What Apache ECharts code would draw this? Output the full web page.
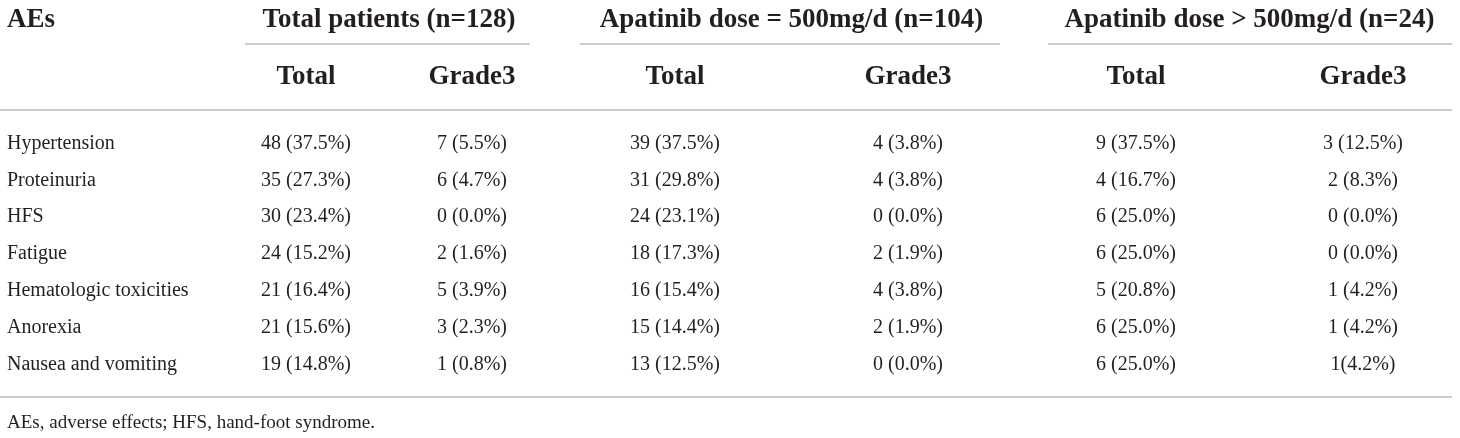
<!DOCTYPE html>
<html>
<head>
<meta charset="utf-8">
<script src="https://cdn.jsdelivr.net/npm/echarts@6/dist/echarts.min.js"></script>
<style>
html,body{margin:0;padding:0;background:#fff;}
#chart{width:1460px;height:438px;}
</style>
</head>
<body>
<div id="chart"></div>
<script>
// ---- data ----
const rowHeader = 'AEs';
const groupHeaders = ['Total patients (n=128)', 'Apatinib dose = 500mg/d (n=104)', 'Apatinib dose > 500mg/d (n=24)'];
const subHeaders = ['Total', 'Grade3', 'Total', 'Grade3', 'Total', 'Grade3'];
const aeNames = ['Hypertension', 'Proteinuria', 'HFS', 'Fatigue', 'Hematologic toxicities', 'Anorexia', 'Nausea and vomiting'];
const allTotal   = ['48 (37.5%)', '35 (27.3%)', '30 (23.4%)', '24 (15.2%)', '21 (16.4%)', '21 (15.6%)', '19 (14.8%)'];
const allGrade3  = ['7 (5.5%)', '6 (4.7%)', '0 (0.0%)', '2 (1.6%)', '5 (3.9%)', '3 (2.3%)', '1 (0.8%)'];
const d500Total  = ['39 (37.5%)', '31 (29.8%)', '24 (23.1%)', '18 (17.3%)', '16 (15.4%)', '15 (14.4%)', '13 (12.5%)'];
const d500Grade3 = ['4 (3.8%)', '4 (3.8%)', '0 (0.0%)', '2 (1.9%)', '4 (3.8%)', '2 (1.9%)', '0 (0.0%)'];
const dHighTotal = ['9 (37.5%)', '4 (16.7%)', '6 (25.0%)', '6 (25.0%)', '5 (20.8%)', '6 (25.0%)', '6 (25.0%)'];
const dHighGrade3 = ['3 (12.5%)', '2 (8.3%)', '0 (0.0%)', '0 (0.0%)', '1 (4.2%)', '1 (4.2%)', '1(4.2%)'];
const footnote = 'AEs, adverse effects; HFS, hand-foot syndrome.';

// ---- layout (styling only) ----
const W = 1460, H = 438;
const colX = [306, 472, 675, 908, 1136, 1363];
const leftX = 7;
const groupY = 20, subY = 77, footY = 423;
const groupRuleY = 44, headRuleY = 110, bottomRuleY = 397;
const groupRuleSpans = [[245, 530], [580, 1000], [1048, 1452]];
const fullRuleSpan = [0, 1452];
const bodyTop = 125, bodyHeight = 258;

const FONT = '"Liberation Serif", "DejaVu Serif", serif';
const INK = '#231f20';
const RULE = '#bdbdbd';
const HEAD_SIZE = 27, BODY_SIZE = 20, FOOT_SIZE = 19;

const columns = [allTotal, allGrade3, d500Total, d500Grade3, dHighTotal, dHighGrade3];

function textSeries(name, data, xi, yi, labelOpts) {
  return {
    name: name,
    type: 'scatter',
    xAxisIndex: xi, yAxisIndex: yi,
    symbolSize: 0,
    silent: true,
    itemStyle: { opacity: 1 },
    emphasis: { disabled: true },
    data: data,
    label: Object.assign({
      show: true,
      position: 'inside',
      formatter: p => p.data[2],
      fontFamily: FONT,
      color: INK,
      opacity: 1
    }, labelOpts)
  };
}

const series = [];

// header row 1
series.push(textSeries('rowHeader', [[leftX, groupY, rowHeader]], 0, 0,
  { position: 'right', distance: 0, fontSize: HEAD_SIZE, fontWeight: 'bold' }));
series.push(textSeries('groupHeaders',
  groupHeaders.map((t, g) => [(colX[2 * g] + colX[2 * g + 1]) / 2, groupY, t]), 0, 0,
  { fontSize: HEAD_SIZE, fontWeight: 'bold' }));
// header row 2
series.push(textSeries('subHeaders',
  subHeaders.map((t, i) => [colX[i], subY, t]), 0, 0,
  { fontSize: HEAD_SIZE, fontWeight: 'bold' }));
// footnote
series.push(textSeries('footnote', [[leftX, footY, footnote]], 0, 0,
  { position: 'right', distance: 0, fontSize: FOOT_SIZE }));

// rules
const ruleData = groupRuleSpans.map(s => ({ coords: [[s[0], groupRuleY], [s[1], groupRuleY]] }))
  .concat([
    { coords: [[fullRuleSpan[0], headRuleY], [fullRuleSpan[1], headRuleY]] },
    { coords: [[fullRuleSpan[0], bottomRuleY], [fullRuleSpan[1], bottomRuleY]] }
  ]);
series.push({
  name: 'rules',
  type: 'lines',
  coordinateSystem: 'cartesian2d',
  xAxisIndex: 0, yAxisIndex: 0,
  silent: true,
  lineStyle: { color: RULE, width: 1.5, opacity: 1 },
  data: ruleData
});

// body cells
columns.forEach((col, k) => {
  series.push(textSeries('col' + k,
    col.map((v, i) => [colX[k], aeNames[i], v]), 1, 1,
    { fontSize: BODY_SIZE }));
});

const chart = echarts.init(document.getElementById('chart'), null, { renderer: 'canvas' });
chart.setOption({
  animation: false,
  backgroundColor: '#ffffff',
  grid: [
    { left: 0, right: 0, top: 0, bottom: 0 },
    { left: 0, right: 0, top: bodyTop, height: bodyHeight }
  ],
  xAxis: [
    { type: 'value', gridIndex: 0, min: 0, max: W, show: false },
    { type: 'value', gridIndex: 1, min: 0, max: W, show: false }
  ],
  yAxis: [
    { type: 'value', gridIndex: 0, min: 0, max: H, inverse: true, show: false },
    {
      type: 'category', gridIndex: 1, inverse: true, data: aeNames,
      axisLine: { show: false }, axisTick: { show: false }, splitLine: { show: false },
      axisLabel: { inside: true, margin: leftX, fontFamily: FONT, fontSize: BODY_SIZE, color: INK }
    }
  ],
  series: series
});
</script>
</body>
</html>
